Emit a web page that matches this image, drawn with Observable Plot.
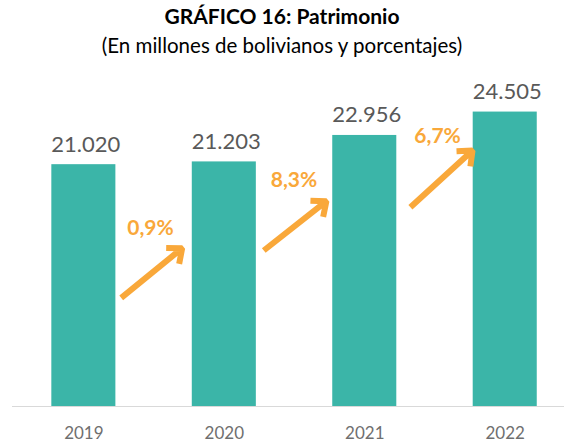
<!DOCTYPE html>
<html><head><meta charset="utf-8">
<script src="https://cdn.jsdelivr.net/npm/d3@7"></script>
<script src="https://cdn.jsdelivr.net/npm/@observablehq/plot@0.6"></script>
<style>
html,body{margin:0;padding:0;background:#fff;}
#wrap{width:564px;font-family:Lato,"Noto Sans",sans-serif;}
.t{text-align:center;font-weight:bold;font-size:21px;line-height:30px;padding-top:1px;color:#000;}
.s{text-align:center;font-size:20.5px;line-height:28px;color:#000;}
#chart svg{display:block;}
</style></head><body>
<div id="wrap">
<div class="t">GRÁFICO 16: Patrimonio</div>
<div class="s">(En millones de bolivianos y porcentajes)</div>
<div id="chart"></div>
</div>
<script>
const years = [2019, 2020, 2021, 2022];
const values = [21020, 21203, 22956, 24505];
const valueLabels = ["21.020", "21.203", "22.956", "24.505"];
const pctLabels = ["0,9%", "8,3%", "6,7%"];
const pctX = [2019.474, 2020.496, 2021.518];
const pctY = [16792, 19973, 22888];
const arrowX1 = [2019.266, 2020.281, 2021.325];
const arrowY1 = [12201, 15335, 18204];
const arrowX2 = [2019.70, 2020.727, 2021.767];
const arrowY2 = [15487, 18601, 21960];
const halfWidth = 0.228;

const bars = years.map((y, i) => ({year: y, value: values[i], label: valueLabels[i]}));
const pcts = pctLabels.map((l, i) => ({label: l, x: pctX[i], y: pctY[i]}));
const arrows = arrowX1.map((x, i) => ({x1: x, y1: arrowY1[i], x2: arrowX2[i], y2: arrowY2[i]}));
const base = 5000;

const chart = Plot.plot({
  width: 564,
  height: 385,
  marginLeft: 12,
  marginRight: 0,
  marginTop: 30,
  marginBottom: 38,
  style: {fontFamily: "Lato, 'Noto Sans', sans-serif", background: "#fff"},
  x: {domain: [2018.492, 2022.422], axis: null},
  y: {domain: [base, 26000], axis: null},
  marks: [
    Plot.rectY(bars, {x1: d => d.year - halfWidth, x2: d => d.year + halfWidth, y1: base, y2: "value", fill: "#3BB5A8"}),
    Plot.ruleY([base], {stroke: "#d9d9d9", strokeWidth: 1}),
    Plot.text(bars, {x: "year", y: "value", text: "label", dy: -20, dx: 2, fill: "#595959", fontSize: 22}),
    Plot.text(years, {x: d => d, y: base, text: d => String(d), dy: 27, fill: "#6f6f6f", fontSize: 17}),
    Plot.arrow(arrows, {x1: "x1", y1: "y1", x2: "x2", y2: "y2", stroke: "#F9A83A", strokeWidth: 6, headLength: 4, headAngle: 80, strokeLinecap: "butt"}),
    Plot.text(pcts, {x: "x", y: "y", text: "label", fill: "#F9A83A", fontSize: 21, fontWeight: "bold"})
  ]
});
document.getElementById("chart").appendChild(chart);
</script>
</body></html>
